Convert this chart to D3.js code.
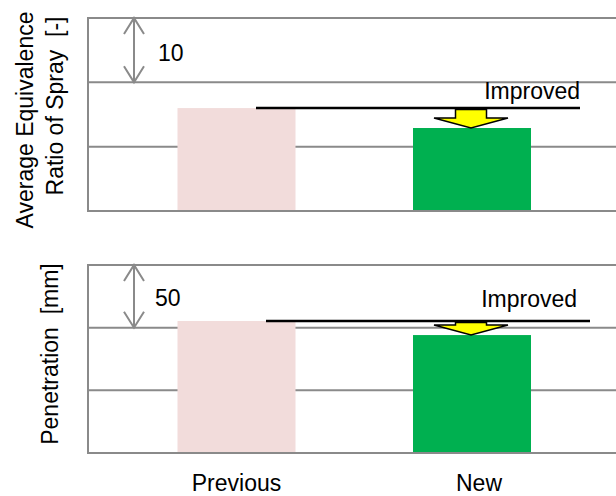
<!DOCTYPE html>
<html>
<head>
<meta charset="utf-8">
<script src="https://cdn.jsdelivr.net/npm/d3@7"></script>
<style>
  html, body { margin: 0; padding: 0; background: #fff; }
  svg { display: block; font-family: "Liberation Sans", Arial, sans-serif; }
</style>
</head>
<body>
<svg id="chart" width="616" height="496"></svg>
<script>
// ---- data ----
const categories = ["Previous", "New"];
const sprayRatio = [16.0, 12.9];     // Average equivalence ratio (relative units, 10 per grid step)
const penetration = [105.3, 94.1];   // Penetration [mm] (50 per grid step)
const sprayTicks = [0, 10, 20, 30];
const penetrationTicks = [0, 50, 100, 150];
const stepLabels = ["10", "50"];
const annotationText = "Improved";
const yLabels = [["Average Equivalence", "Ratio of Spray  [-]"], ["Penetration  [mm]"]];
const barColors = ["#F2DCDB", "#00B050"];

// ---- layout ----
const W = 616, H = 496;
const svg = d3.select("#chart");
const left = 88, right = 616;
const x = d3.scalePoint().domain(categories).range([236.5, 472]);
const barW = 118;
const FS = 23;

const panels = [
  { values: sprayRatio, ticks: sprayTicks, top: 18, bottom: 211, step: stepLabels[0],
    labels: yLabels[0], labelX: [33, 63], labelY: [120, 106],
    lineX: [256, 580], textEnd: 580, textDy: -9, stepDy: 11, stepX: 158 },
  { values: penetration, ticks: penetrationTicks, top: 265, bottom: 453, step: stepLabels[1],
    labels: yLabels[1], labelX: [58], labelY: [354],
    lineX: [266, 590], textEnd: 577, textDy: -14, stepDy: 10, stepX: 155 }
];

const grey = "#8a8a8a";

panels.forEach(p => {
  const y = d3.scaleLinear().domain(d3.extent(p.ticks)).range([p.bottom, p.top]);
  const g = svg.append("g");

  // gridlines
  g.selectAll("line.grid").data(p.ticks).join("line")
    .attr("x1", left).attr("x2", right)
    .attr("y1", d => y(d)).attr("y2", d => y(d))
    .attr("stroke", grey).attr("stroke-width", 2);
  // left border
  g.append("line").attr("x1", left).attr("x2", left)
    .attr("y1", y(p.ticks[0]) + 1).attr("y2", y(p.ticks[p.ticks.length - 1]) - 1)
    .attr("stroke", grey).attr("stroke-width", 2);

  // bars
  g.selectAll("rect.bar").data(categories).join("rect")
    .attr("x", d => x(d) - barW / 2)
    .attr("width", barW)
    .attr("y", (d, i) => y(p.values[i]))
    .attr("height", (d, i) => y(0) - y(p.values[i]))
    .attr("fill", (d, i) => barColors[i]);
  // redraw baseline on top
  g.append("line").attr("x1", left).attr("x2", right)
    .attr("y1", y(0)).attr("y2", y(0))
    .attr("stroke", grey).attr("stroke-width", 2);

  // step double arrow
  const ax = 134;
  const t1 = p.ticks[p.ticks.length - 1], t0 = p.ticks[p.ticks.length - 2];
  const ya = y(t1), yb = y(t0);
  const ag = g.append("g").attr("stroke", grey).attr("stroke-width", 2).attr("fill", "none");
  ag.append("line").attr("x1", ax).attr("x2", ax).attr("y1", ya).attr("y2", yb);
  ag.append("path").attr("d", `M${ax - 10},${ya + 16}L${ax},${ya}L${ax + 10},${ya + 16}`);
  ag.append("path").attr("d", `M${ax - 10},${yb - 16}L${ax},${yb}L${ax + 10},${yb - 16}`);
  g.append("text").attr("x", p.stepX).attr("y", (ya + yb) / 2 + p.stepDy)
    .attr("font-size", FS).attr("fill", "#000").text(p.step);

  // previous level line
  const yPrev = y(p.values[0]);
  g.append("line").attr("x1", p.lineX[0]).attr("x2", p.lineX[1])
    .attr("y1", yPrev).attr("y2", yPrev)
    .attr("stroke", "#000").attr("stroke-width", 2.5);
  g.append("text").attr("x", p.textEnd).attr("y", yPrev + p.textDy)
    .attr("text-anchor", "end").attr("font-size", FS).attr("fill", "#000")
    .text(annotationText);

  // yellow arrow from previous level down to new bar top
  const cx = x(categories[1]) - 1;
  const yTop = yPrev + 1.5, yTip = y(p.values[1]);
  const headH = 10, sw = 15.5, hw = 37;
  const yHead = yTip - headH;
  g.append("path")
    .attr("d", `M${cx - sw},${yTop}L${cx + sw},${yTop}L${cx + sw},${yHead}L${cx + hw},${yHead}L${cx},${yTip}L${cx - hw},${yHead}L${cx - sw},${yHead}Z`)
    .attr("fill", "#FFFF00").attr("stroke", "#000").attr("stroke-width", 1.5)
    .attr("stroke-linejoin", "miter");

  // y label
  p.labels.forEach((txt, i) => {
    g.append("text")
      .attr("transform", `translate(${p.labelX[i]},${p.labelY[i]}) rotate(-90)`)
      .attr("text-anchor", "middle").attr("font-size", FS).attr("fill", "#000")
      .attr("xml:space", "preserve")
      .style("white-space", "pre")
      .text(txt);
  });
});

// category labels
svg.selectAll("text.cat").data(categories).join("text")
  .attr("class", "cat")
  .attr("x", (d, i) => x(d) + (i === 1 ? 7 : 0))
  .attr("y", 491)
  .attr("text-anchor", "middle").attr("font-size", FS).attr("fill", "#000")
  .text(d => d);
</script>
</body>
</html>
